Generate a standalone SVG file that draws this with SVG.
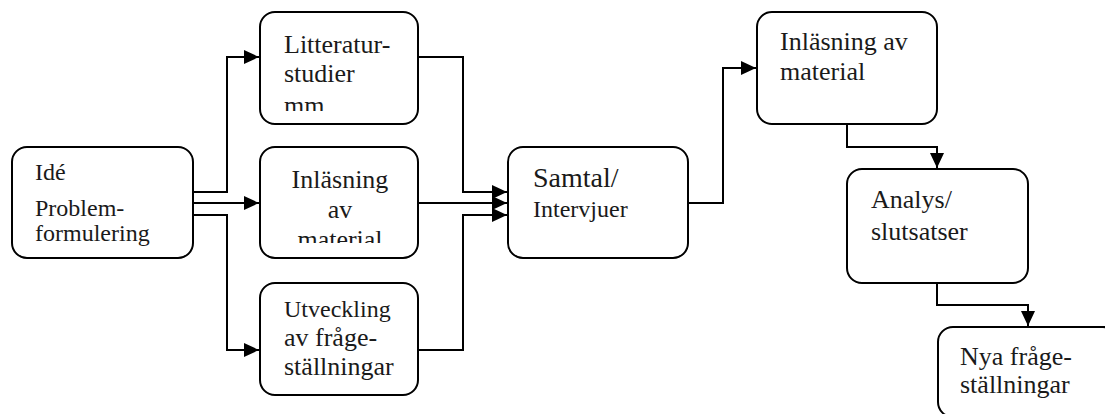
<svg xmlns="http://www.w3.org/2000/svg" width="1105" height="414" viewBox="0 0 1105 414">
<style>
.box{fill:#fff;stroke:#000;stroke-width:2}
.t{font-family:'Liberation Serif','DejaVu Serif',serif;font-size:26px;fill:#1a1a1a}
.s{font-size:24px}
.c{fill:none;stroke:#000;stroke-width:2}
</style>
<defs>
<marker id="ah" markerUnits="userSpaceOnUse" markerWidth="16" markerHeight="14" refX="15" refY="7" orient="auto">
<path d="M0,0 L15,7 L0,14 Z" fill="#000"/>
</marker>
<clipPath id="clipLit"><rect x="260" y="12" width="158" height="99"/></clipPath>
<clipPath id="clipInl"><rect x="260" y="147" width="158" height="96"/></clipPath>
</defs>
<rect width="1105" height="414" fill="#fff"/>
<g id="connectors">
<path class="c" d="M193,192 H227 V57 H259" marker-end="url(#ah)"/>
<path class="c" d="M193,203 H259" marker-end="url(#ah)"/>
<path class="c" d="M193,215 H227 V350 H259" marker-end="url(#ah)"/>
<path class="c" d="M418,57 H463 V192 H507" marker-end="url(#ah)"/>
<path class="c" d="M418,203 H507" marker-end="url(#ah)"/>
<path class="c" d="M418,350 H463 V215 H507" marker-end="url(#ah)"/>
<path class="c" d="M688,203 H723 V68 H756" marker-end="url(#ah)"/>
<path class="c" d="M847,124 V147 H937 V168" marker-end="url(#ah)"/>
<path class="c" d="M937,283 V305 H1028 V326" marker-end="url(#ah)"/>
</g>
<g id="n-ide">
<rect class="box" x="12" y="147" width="181" height="111" rx="15"/>
<text class="t s" x="35" y="180">Idé</text>
<text class="t s" x="35" y="216">Problem-</text>
<text class="t s" x="35" y="241">formulering</text>
</g>
<g id="n-litteratur">
<rect class="box" x="260" y="12" width="158" height="112" rx="15"/>
<g clip-path="url(#clipLit)">
<text class="t" x="284" y="53">Litteratur-</text>
<text class="t" x="284" y="82">studier</text>
<text class="t" x="284" y="114">mm</text>
</g>
</g>
<g id="n-inlasning">
<rect class="box" x="260" y="147" width="158" height="111" rx="15"/>
<g clip-path="url(#clipInl)" text-anchor="middle">
<text class="t" x="340" y="188">Inläsning</text>
<text class="t" x="340" y="218">av</text>
<text class="t" x="340" y="248">material</text>
</g>
</g>
<g id="n-utveckling">
<rect class="box" x="260" y="283" width="158" height="112" rx="15"/>
<text class="t s" x="284" y="317">Utveckling</text>
<text class="t" x="284" y="346">av fråge-</text>
<text class="t" x="284" y="375">ställningar</text>
</g>
<g id="n-samtal">
<rect class="box" x="508" y="147" width="180" height="111" rx="15"/>
<text class="t" x="533" y="187" style="font-size:28px">Samtal/</text>
<text class="t s" x="533" y="217">Intervjuer</text>
</g>
<g id="n-inlasning2">
<rect class="box" x="757" y="12" width="180" height="112" rx="15"/>
<text class="t" x="780" y="50">Inläsning av</text>
<text class="t" x="780" y="80">material</text>
</g>
<g id="n-analys">
<rect class="box" x="847" y="169" width="181" height="114" rx="15"/>
<text class="t" x="871" y="208">Analys/</text>
<text class="t" x="871" y="240">slutsatser</text>
</g>
<g id="n-nya">
<rect class="box" x="938" y="327" width="180" height="90" rx="15"/>
<text class="t" x="960" y="365">Nya fråge-</text>
<text class="t" x="960" y="393">ställningar</text>
</g>
</svg>
